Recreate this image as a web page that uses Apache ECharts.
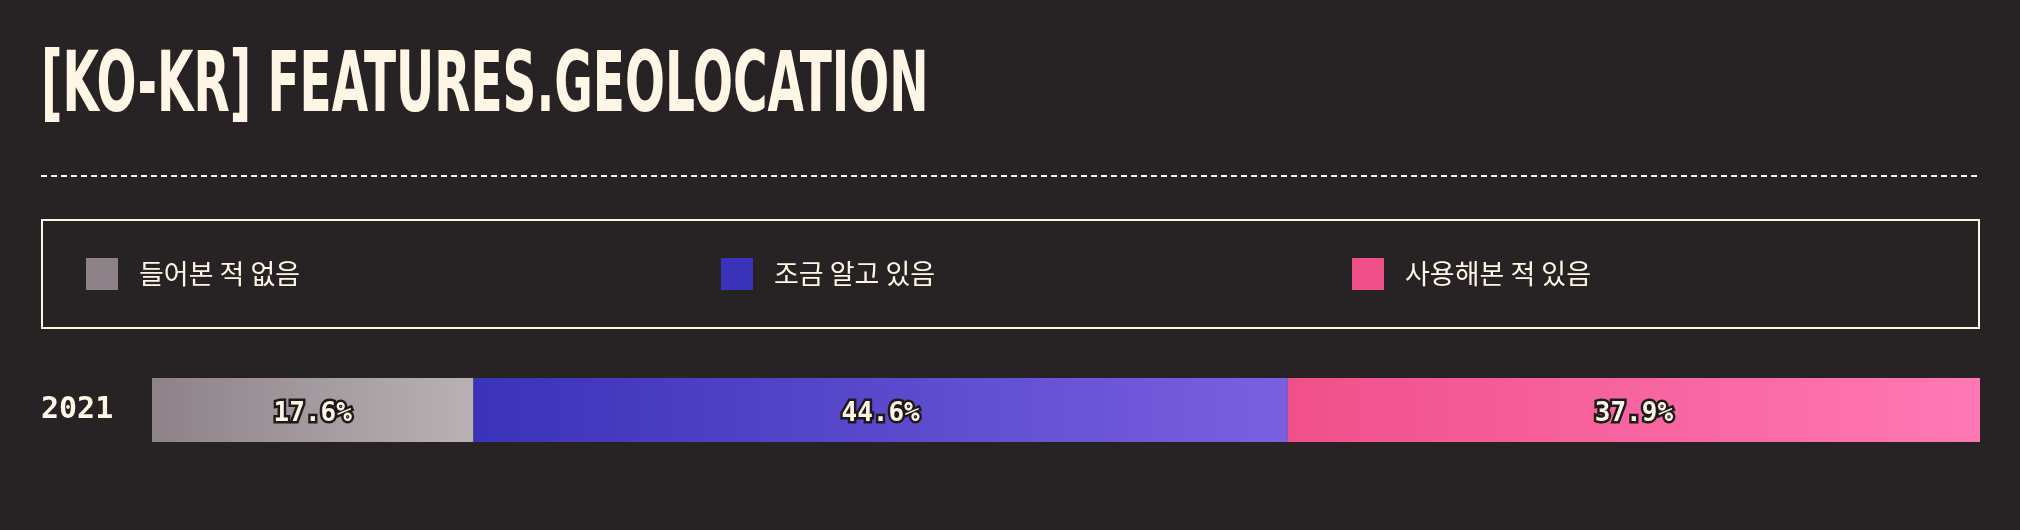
<!DOCTYPE html>
<html>
<head>
<meta charset="utf-8">
<script src="https://cdn.jsdelivr.net/npm/echarts@6/dist/echarts.min.js"></script>
<style>
  html, body { margin: 0; padding: 0; background: #272325; }
  #chart { width: 2020px; height: 530px; }
</style>
</head>
<body>
<div id="chart"></div>
<script>
const years = ['2021'];
const seriesNames = ['들어본 적 없음', '조금 알고 있음', '사용해본 적 있음'];
const neverHeard = [17.6];
const knowAbout = [44.6];
const used = [37.9];

const cream = '#fff6e6';
const gradients = [
    ['#8c8288', '#bab1b5'],
    ['#3a32b8', '#7a60e0'],
    ['#f0508a', '#ff78b4']
];
const legendX = [86, 721, 1352];

const grad = (c) => new echarts.graphic.LinearGradient(0, 0, 1, 0, [
    { offset: 0, color: c[0] },
    { offset: 1, color: c[1] }
]);

const chart = echarts.init(document.getElementById('chart'));
const values = [neverHeard, knowAbout, used];
const total = values.reduce((s, v) => s + v[0], 0);

chart.setOption({
    backgroundColor: '#272325',
    animation: false,
    graphic: [
        {
            type: 'text',
            x: 41, y: 47,
            scaleX: 0.622,
            style: {
                text: '[KO-KR] FEATURES.GEOLOCATION',
                fill: cream,
                font: 'bold 84px "DejaVu Sans Condensed", Roboto, sans-serif'
            }
        },
        {
            type: 'line',
            shape: { x1: 41, y1: 176, x2: 1979, y2: 176 },
            style: { stroke: cream, lineWidth: 2, lineDash: [6, 4] }
        },
        {
            type: 'rect',
            shape: { x: 42, y: 220, width: 1937, height: 108 },
            style: { fill: 'none', stroke: cream, lineWidth: 2 }
        }
    ],
    legend: seriesNames.map((name, i) => ({
        data: [name],
        left: legendX[i],
        top: 258,
        padding: 0,
        itemWidth: 32,
        itemHeight: 32,
        itemGap: 0,
        selectedMode: false,
        icon: 'rect',
        itemStyle: { color: gradients[i][0] },
        textStyle: {
            color: cream,
            fontSize: 27,
            fontFamily: '"Noto Sans CJK KR", sans-serif',
            padding: [0, 0, 0, 16]
        }
    })),
    grid: { left: 152, right: 40, top: 378, height: 64 },
    xAxis: {
        type: 'value',
        min: 0,
        max: total,
        show: false
    },
    yAxis: {
        type: 'category',
        data: years,
        axisLine: { show: false },
        axisTick: { show: false },
        axisLabel: {
            color: cream,
            fontSize: 30,
            fontWeight: 'bold',
            fontFamily: '"DejaVu Sans Mono", monospace',
            align: 'left',
            margin: 111
        }
    },
    series: seriesNames.map((name, i) => ({
        name: name,
        type: 'bar',
        stack: 'total',
        barWidth: 64,
        data: values[i],
        itemStyle: { color: grad(gradients[i]) },
        label: {
            show: true,
            position: 'inside',
            offset: [0, 4],
            formatter: (p) => p.value.toFixed(1) + '%',
            color: cream,
            fontSize: 26,
            fontWeight: 'bold',
            fontFamily: '"DejaVu Sans Mono", monospace',
            textBorderColor: '#1e1a1c',
            textBorderWidth: 5
        }
    }))
});
</script>
</body>
</html>
